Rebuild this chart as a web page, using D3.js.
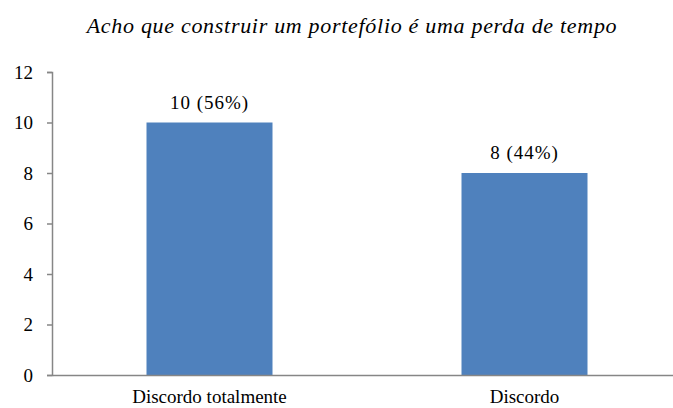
<!DOCTYPE html>
<html>
<head>
<meta charset="utf-8">
<script src="https://cdn.jsdelivr.net/npm/d3@7"></script>
<style>
  body { margin: 0; background: #fff; }
  text { font-family: "Liberation Serif", "Times New Roman", serif; fill: #000; }
</style>
</head>
<body>
<div id="chart"></div>
<script>
var categories = ["Discordo totalmente", "Discordo"];
var counts = [10, 8];
var barLabels = ["10 (56%)", "8 (44%)"];
var yTicks = [0, 2, 4, 6, 8, 10, 12];
var title = "Acho que construir um portefólio é uma perda de tempo";

var width = 673, height = 408;
var serif = "'Liberation Serif', 'Times New Roman', serif";

var svg = d3.select("#chart").append("svg")
  .attr("width", width)
  .attr("height", height);

var x = d3.scaleBand()
  .domain(categories)
  .range([52, 682])
  .paddingInner(0.6)
  .paddingOuter(0.3);

var y = d3.scaleLinear()
  .domain([0, 12])
  .range([375, 72]);

// title
svg.append("text")
  .attr("x", 352)
  .attr("y", 33)
  .attr("text-anchor", "middle")
  .style("font-style", "italic")
  .style("font-size", "22px")
  .style("letter-spacing", "0.7px")
  .text(title);

// bars
svg.selectAll("rect.bar")
  .data(counts)
  .enter().append("rect")
  .attr("class", "bar")
  .attr("x", function (d, i) { return x(categories[i]); })
  .attr("y", function (d) { return y(d); })
  .attr("width", x.bandwidth())
  .attr("height", function (d) { return y(0) - y(d); })
  .style("fill", "#4F81BD");

// value labels
svg.selectAll("text.val")
  .data(counts)
  .enter().append("text")
  .attr("class", "val")
  .attr("x", function (d, i) { return x(categories[i]) + x.bandwidth() / 2; })
  .attr("y", function (d) { return y(d) - 14; })
  .attr("text-anchor", "middle")
  .style("font-size", "19px")
  .style("letter-spacing", "1px")
  .text(function (d, i) { return barLabels[i]; });

// y axis
var yAxis = svg.append("g")
  .attr("transform", "translate(52,0)")
  .call(d3.axisLeft(y).tickValues(yTicks).tickSize(5).tickPadding(14));
yAxis.select(".domain").attr("stroke", "#868686").attr("stroke-width", 1.5);
yAxis.selectAll(".tick line").attr("stroke", "#868686").attr("stroke-width", 1.5);
yAxis.selectAll(".tick text")
  .style("font-family", serif)
  .style("font-size", "19px")
  .attr("fill", "#000");

// x axis
var xAxis = svg.append("g")
  .attr("transform", "translate(0,375)")
  .call(d3.axisBottom(x).tickSize(0).tickPadding(15));
xAxis.select(".domain").attr("stroke", "#868686").attr("stroke-width", 1.5);
xAxis.selectAll(".tick text")
  .style("font-family", serif)
  .style("font-size", "19px")
  .attr("fill", "#000");
</script>
</body>
</html>
